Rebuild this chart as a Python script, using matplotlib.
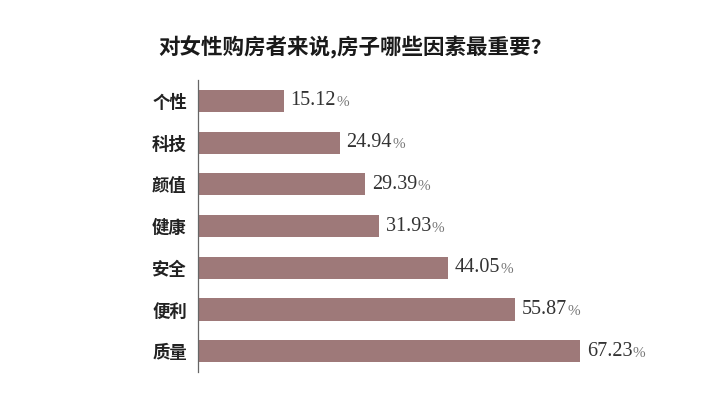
import matplotlib.pyplot as plt

# 数据
factors = ['个性', '科技', '颜值', '健康', '安全', '便利', '质量']
shares = [15.12, 24.94, 29.39, 31.93, 44.05, 55.87, 67.23]

bar_color = '#9e7979'

fig = plt.figure(figsize=(7.2, 4.13), dpi=100)
ax = fig.add_axes([0.275, 0.099, 0.71, 0.707])

ax.barh(range(len(factors)), shares, height=0.53, color=bar_color)
ax.set_ylim(len(factors) - 0.5, -0.5)
ax.set_xlim(0, 90)

ax.set_yticks(range(len(factors)))
ax.set_yticklabels(factors, fontfamily=['Noto Sans CJK SC', 'DejaVu Sans'],
                   fontweight='bold', fontsize=12.5, color='#222222')
ax.tick_params(axis='y', length=0, pad=8)
ax.set_xticks([])

for s in ['top', 'right', 'bottom']:
    ax.spines[s].set_visible(False)
ax.spines['left'].set_color('#666666')
ax.spines['left'].set_linewidth(0.9)

# 数值标签，百分号单独画，颜色浅一些
for i, v in enumerate(shares):
    t = ax.text(v + 1.2, i, '%.2f' % v, va='center', ha='left',
                fontfamily='Liberation Serif', fontsize=14.5, color='#333333')
    ax.annotate('%', xy=(1, 0), xycoords=t, xytext=(0.3, 0.8),
                textcoords='offset points', va='bottom', ha='left',
                fontfamily='Liberation Serif', fontsize=11, color='#777777')

fig.text(0.486, 0.885, '对女性购房者来说,房子哪些因素最重要?', ha='center', va='center',
         fontfamily=['Noto Sans CJK SC', 'DejaVu Sans'], fontweight='bold',
         fontsize=15.5, color='#1a1a1a')

fig.savefig('out.png', dpi=100)
